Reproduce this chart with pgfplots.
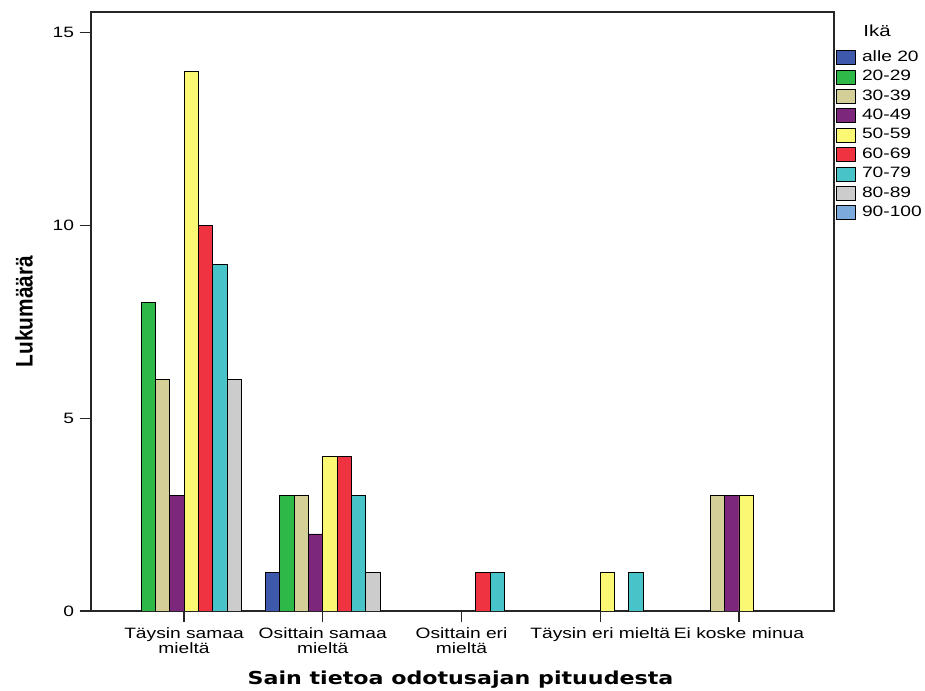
\documentclass[border=0pt]{standalone}
\usepackage{pgfplots}
\pgfplotsset{compat=1.18}
\usepackage{fontspec}
\setmainfont{Liberation Sans}[FakeStretch=1.28]
\newfontfamily\ylabfont{Liberation Sans}[FakeStretch=0.87]
\newfontfamily\xlabfont{DejaVu Sans}[FakeStretch=1.24]
\newcommand\tickfont{\fontsize{11.25}{11.25}\selectfont}
\definecolor{c1}{RGB}{62,88,172}
\definecolor{c2}{RGB}{46,184,72}
\definecolor{c3}{RGB}{212,206,151}
\definecolor{c4}{RGB}{124,39,124}
\definecolor{c5}{RGB}{251,248,115}
\definecolor{c6}{RGB}{239,51,64}
\definecolor{c7}{RGB}{72,196,200}
\definecolor{c8}{RGB}{204,204,204}
\definecolor{c9}{RGB}{125,170,221}
\begin{document}
\begin{tikzpicture}[x=1pt,y=1pt]
\path[use as bounding box] (0,0) rectangle (693.75,518.25);
\begin{axis}[
  at={(68.25pt,60pt)}, anchor=south west,
  width=557.25pt, height=449.25pt, scale only axis,
  xmin=-0.6705, xmax=4.685, ymin=0, ymax=15.54,
  ybar, bar width=10.7pt,
  every axis plot post/.append style={
    legend image code/.code={\draw[##1, line width=0.6pt] (0pt,-5.25pt) rectangle (14.25pt,5.25pt);}},
  axis line style={black!85, line width=0.9pt},
  xtick={0,1,2,3,4},
  xticklabels={{Täysin samaa\\mieltä},{Osittain samaa\\mieltä},{Osittain eri\\mieltä},{Täysin eri mieltä},{Ei koske minua}},
  ytick={0,5,10,15},
  tick align=outside,
  major tick length=8.6pt,
  xtick pos=bottom, ytick pos=left,
  xtick style={black!85, line width=0.9pt},
  ytick style={black!85, line width=0.9pt},
  /pgf/number format/assume math mode=true,
  xticklabel style={font=\tickfont, align=center, anchor=north, inner sep=0pt, yshift=-3.4pt},
  yticklabel style={font=\tickfont, anchor=east, inner sep=0pt, xshift=-4pt},
  xlabel={Sain tietoa odotusajan pituudesta},
  xlabel style={font=\xlabfont\bfseries\fontsize{13.4}{14}\selectfont, at={(axis description cs:0.4973,-0.1235)}, anchor=base},
  ylabel={Lukumäärä},
  ylabel style={font=\ylabfont\bfseries\fontsize{18}{20}\selectfont, at={(axis description cs:-0.0902,0.5)}, anchor=center},
  legend style={at={(1.00269,0.93656)}, anchor=north west, draw=none, fill=none,
    inner sep=0pt, row sep=3.45pt, column sep=4.5pt, font=\tickfont,
    nodes={inner sep=0pt, text height=8pt, text depth=2.5pt}},
  legend cell align=left,
]
\addplot[fill=c1, draw=black, line width=0.6pt, bar shift=-37.54pt] coordinates {(1,1)};
\addplot[fill=c2, draw=black, line width=0.6pt, bar shift=-26.81pt] coordinates {(0,8) (1,3)};
\addplot[fill=c3, draw=black, line width=0.6pt, bar shift=-16.09pt] coordinates {(0,6) (1,3) (4,3)};
\addplot[fill=c4, draw=black, line width=0.6pt, bar shift=-5.36pt] coordinates {(0,3) (1,2) (4,3)};
\addplot[fill=c5, draw=black, line width=0.6pt, bar shift=5.36pt] coordinates {(0,14) (1,4) (3,1) (4,3)};
\addplot[fill=c6, draw=black, line width=0.6pt, bar shift=16.09pt] coordinates {(0,10) (1,4) (2,1)};
\addplot[fill=c7, draw=black, line width=0.6pt, bar shift=26.81pt] coordinates {(0,9) (1,3) (2,1) (3,1)};
\addplot[fill=c8, draw=black, line width=0.6pt, bar shift=37.54pt] coordinates {(0,6) (1,1)};
\addlegendimage{fill=c9, draw=black, line width=0.6pt}
\legend{alle 20,20-29,30-39,40-49,50-59,60-69,70-79,80-89,90-100}
\end{axis}
\node[font=\fontsize{12}{12}\selectfont] at (657.75,495) {Ikä};
\end{tikzpicture}
\end{document}
